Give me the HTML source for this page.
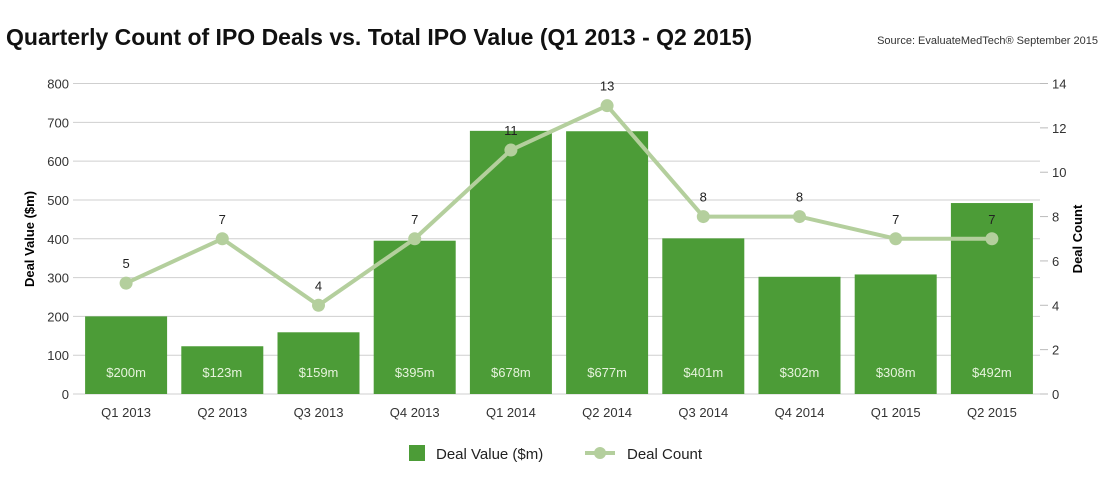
<!DOCTYPE html>
<html><head><meta charset="utf-8"><style>
body{margin:0;background:#fff;font-family:"Liberation Sans",sans-serif}
svg text{font-family:"Liberation Sans",sans-serif}
</style></head><body>
<svg width="1112" height="489">
<text x="6" y="45" font-size="23" font-weight="bold" fill="#111">Quarterly Count of IPO Deals vs. Total IPO Value (Q1 2013 - Q2 2015)</text>
<text x="1098" y="44" font-size="11" fill="#333" text-anchor="end">Source: EvaluateMedTech® September 2015</text>
<g id="grid"></g><g id="bars"></g><g id="line"></g><g id="axes"></g>
<text transform="translate(34,239) rotate(-90)" font-size="13" font-weight="bold" text-anchor="middle">Deal Value ($m)</text>
<text transform="translate(1082,239) rotate(-90)" font-size="13" font-weight="bold" text-anchor="middle">Deal Count</text>
<g>
<rect x="409" y="445" width="16" height="16" fill="#4c9c37"/>
<text x="436" y="459" font-size="15" fill="#222">Deal Value ($m)</text>
<line x1="585" y1="453" x2="615" y2="453" stroke="#b4cf9d" stroke-width="4"/>
<circle cx="600" cy="453" r="6" fill="#b4cf9d"/>
<text x="627" y="459" font-size="15" fill="#222">Deal Count</text>
</g>
</svg>
<script>
const categories=["Q1 2013","Q2 2013","Q3 2013","Q4 2013","Q1 2014","Q2 2014","Q3 2014","Q4 2014","Q1 2015","Q2 2015"];
const dealValues=[200,123,159,395,678,677,401,302,308,492];
const dealCounts=[5,7,4,7,11,13,8,8,7,7];
const leftTicks=[0,100,200,300,400,500,600,700,800];
const rightTicks=[0,2,4,6,8,10,12,14];
const NS="http://www.w3.org/2000/svg";
const L=78,R=1040,T=83.5,B=394;
const step=(R-L)/categories.length;
const xc=i=>L+step*(i+0.5);
const yL=v=>B-(v/800)*(B-T);
const yR=v=>B-(v/14)*(B-T);
function mk(p,tag,a){const e=document.createElementNS(NS,tag);for(const k in a)e.setAttribute(k,a[k]);document.getElementById(p).appendChild(e);return e;}
leftTicks.forEach(t=>{
 const l=mk('grid','line',{x1:L-5,x2:R,y1:yL(t),y2:yL(t),stroke:'#cfcfcf','stroke-width':1});
 
 
 const tx=mk('axes','text',{x:L-9,y:yL(t)+5,'font-size':13,'text-anchor':'end',fill:'#333'});tx.textContent=t;
 
 
});
rightTicks.forEach(t=>{
 mk('axes','line',{x1:R,x2:R+8,y1:yR(t),y2:yR(t),stroke:'#bbb'});
 const tx=mk('axes','text',{x:R+12,y:yR(t)+5,'font-size':13,fill:'#333'});tx.textContent=t;
 
 
});
categories.forEach((c,i)=>{
 const bw=82,x=xc(i)-bw/2,y=yL(dealValues[i]);
 const r=mk('bars','rect',{x:x,y:y,width:bw,height:B-y,fill:'#4c9c37'});
 
 
 const vt=mk('bars','text',{x:xc(i),y:377,'font-size':13,'text-anchor':'middle',fill:'#e6f3dc'});vt.textContent='$'+dealValues[i]+'m';
 
 
 const ct=mk('axes','text',{x:xc(i),y:417,'font-size':13,'text-anchor':'middle',fill:'#333'});ct.textContent=c;
 
 
});
const pl=mk('line','polyline',{points:dealCounts.map((v,i)=>xc(i)+','+yR(v)).join(' '),fill:'none',stroke:'#b4cf9d','stroke-width':4});


dealCounts.forEach((v,i)=>{
 const c=mk('line','circle',{cx:xc(i),cy:yR(v),r:6.5,fill:'#b4cf9d'});
 
 
 const t=mk('line','text',{x:xc(i),y:yR(v)-15,'font-size':13,'text-anchor':'middle',fill:'#222'});t.textContent=v;
 
 
});
</script>
</body></html>
